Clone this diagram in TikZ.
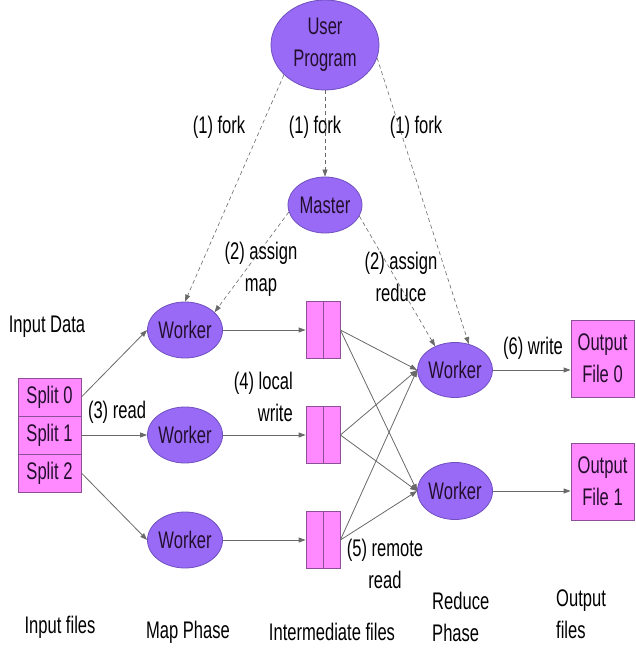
\documentclass[tikz,border=0pt]{standalone}
\usepackage{fontspec}
\setmainfont{Liberation Sans}[FakeStretch=0.69]
\usetikzlibrary{shapes.geometric,arrows.meta}
\definecolor{wfill}{RGB}{152,106,246}
\definecolor{wdraw}{RGB}{112,80,190}
\definecolor{pfill}{RGB}{255,138,255}
\definecolor{pdraw}{RGB}{140,80,150}
\definecolor{lgray}{RGB}{105,105,105}
\definecolor{ntext}{RGB}{35,15,45}
\begin{document}
\begin{tikzpicture}[x=1pt,y=-1pt,
  bigfont/.style={font=\fontsize{24}{32}\selectfont},
  txt/.style={bigfont, inner sep=0pt, align=center, text=black},
  worker/.style={ellipse, bigfont, fill=wfill, draw=wdraw, line width=0.8pt,
    minimum width=74pt, minimum height=56pt, inner sep=0pt, text=ntext, align=center},
  pbox/.style={rectangle, bigfont, fill=pfill, draw=pdraw, line width=0.8pt,
    inner sep=0pt, text=ntext, align=center},
  arr/.style={draw=lgray, line width=0.8pt, -{Triangle[length=7pt,width=5pt]}},
  darr/.style={draw=lgray, line width=0.6pt, dash pattern=on 4pt off 3pt,
    -{Triangle[length=7pt,width=5pt]}}
]
\useasboundingbox (0,0) rectangle (635,652);

% ellipses
\node[worker, minimum width=108pt, minimum height=90pt] (up) at (325,45) {User\\Program};
\node[worker] (ms) at (325,205) {Master};
\node[worker] (m1) at (185,330) {Worker};
\node[worker] (m2) at (185,435) {Worker};
\node[worker] (m3) at (185,540) {Worker};
\node[worker, minimum height=55pt] (r1) at (455,370) {Worker};
\node[worker, minimum height=57pt] (r2) at (455,491) {Worker};

% split boxes
\node[pbox, minimum width=63pt, minimum height=38pt] (s0) at (49.5,397) {Split 0};
\node[pbox, minimum width=63pt, minimum height=38pt] (s1) at (49.5,435) {Split 1};
\node[pbox, minimum width=63pt, minimum height=38pt] (s2) at (49.5,473) {Split 2};

% intermediate files
\node[pbox, minimum width=34pt, minimum height=57pt] (i1) at (323,330) {};
\node[pbox, minimum width=34pt, minimum height=57pt] (i2) at (323,435) {};
\node[pbox, minimum width=34pt, minimum height=57pt] (i3) at (323,540) {};
\draw[pdraw, line width=0.8pt] (i1.north) -- (i1.south);
\draw[pdraw, line width=0.8pt] (i2.north) -- (i2.south);
\draw[pdraw, line width=0.8pt] (i3.north) -- (i3.south);

% output files
\node[pbox, minimum width=63pt, minimum height=77pt] (o0) at (602.5,358.5) {Output\\File 0};
\node[pbox, minimum width=63pt, minimum height=77pt] (o1) at (602.5,481.5) {Output\\File 1};

% labels
\node[txt] (lfork1) at (219,127) {(1) fork};
\node[txt] (lfork2) at (315,127) {(1) fork};
\node[txt] (lfork3) at (416,127) {(1) fork};
\node[txt] (lassm) at (261,269) {(2) assign\\map};
\node[txt] (lassr) at (401,277) {(2) assign\\reduce};
\node[txt] (lin) at (47,327) {Input Data};
\node[txt] (lread) at (117,412) {(3) read};
\node[txt, align=right, anchor=east] (llocal) at (293,397) {(4) local\\write};
\node[txt] (lremote) at (385,564) {(5) remote\\read};
\node[txt] (lwrite) at (533,348) {(6) write};

\node[txt] (b1) at (60,627) {Input files};
\node[txt] (b2) at (188,632) {Map Phase};
\node[txt] (b3) at (332,632) {Intermediate files};
\node[txt, align=left, anchor=west] (b4) at (432,617) {Reduce\\Phase};
\node[txt, align=left, anchor=west] (b5) at (556,614) {Output\\files};

% dashed control arrows
\draw[darr] (up.216) -- (m1.north);
\draw[darr] (up.south) -- (ms.north);
\draw[darr] (up.-14) -- (r1.62);
\draw[darr] (ms.191) -- (m1.31);
\draw[darr] (ms.-18) -- (r1.130);

% data flow
\draw[arr] (s0.east) -- (m1.west);
\draw[arr] (s1.east) -- (m2.west);
\draw[arr] (s2.east) -- (m3.west);
\draw[arr] (m1.east) -- (i1.west);
\draw[arr] (m2.east) -- (i2.west);
\draw[arr] (m3.east) -- (i3.west);
\foreach \i in {i1,i2,i3}{
  \draw[arr] (\i.east) -- (r1.west);
  \draw[arr] (\i.east) -- (r2.west);
}
\draw[arr] (r1.east) -- (o0.west |- r1.east);
\draw[arr] (r2.east) -- (o1.west |- r2.east);
\end{tikzpicture}
\end{document}
